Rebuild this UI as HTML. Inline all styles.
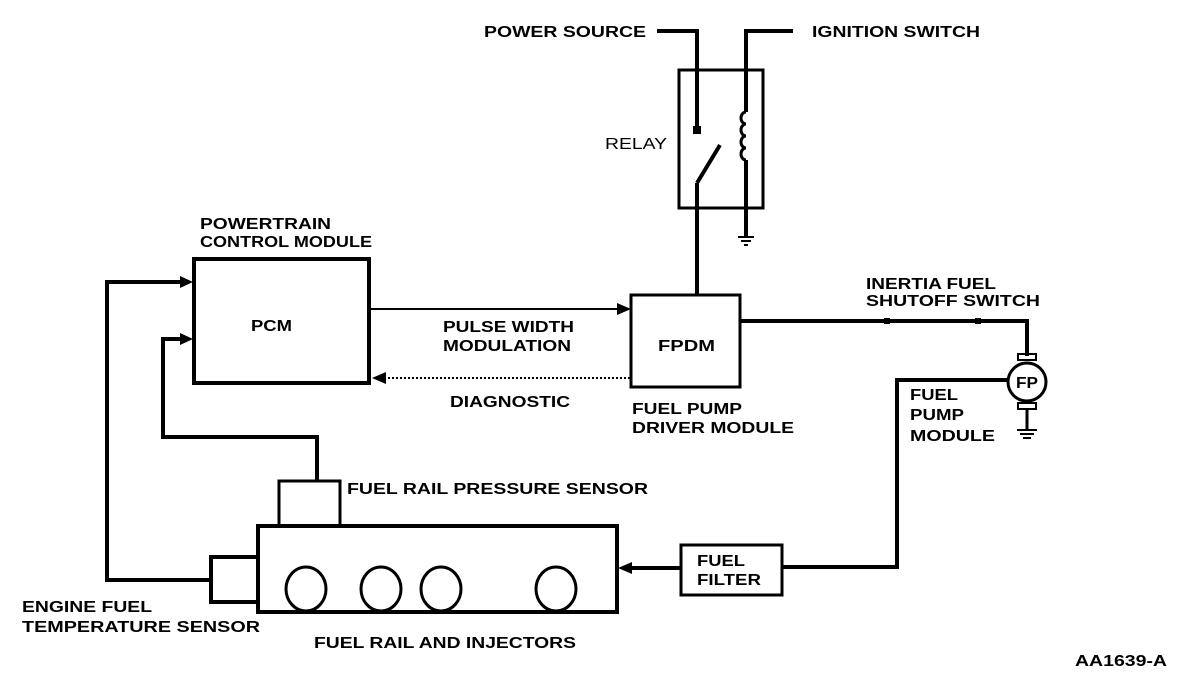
<!DOCTYPE html>
<html><head><meta charset="utf-8"><style>
html,body{margin:0;padding:0;background:#fff;}
svg{display:block;}
text{font-family:"Liberation Sans",sans-serif;font-weight:bold;font-size:16px;fill:#000;}
</style></head><body>
<svg width="1200" height="688" viewBox="0 0 1200 688" xmlns="http://www.w3.org/2000/svg">
<g fill="none" stroke="#000">
<!-- relay -->
<rect x="679" y="70" width="84" height="138" stroke-width="3"/>
<polyline points="657,31 697,31 697,130" stroke-width="4"/>
<rect x="693" y="126" width="8" height="8" fill="#000" stroke="none"/>
<line x1="697" y1="183" x2="720" y2="145" stroke-width="4"/>
<line x1="697" y1="183" x2="697" y2="296" stroke-width="4"/>
<polyline points="793,31 746,31 746,112" stroke-width="4"/>
<path d="M746,112 a5,6 0 0 0 0,12 a5,6 0 0 0 0,12 a5,6 0 0 0 0,12 a5,6 0 0 0 0,12 " stroke-width="3"/>
<line x1="746" y1="160" x2="746" y2="237" stroke-width="4"/>
<line x1="738" y1="237" x2="754" y2="237" stroke-width="2"/>
<line x1="741" y1="241" x2="751" y2="241" stroke-width="2"/>
<line x1="744" y1="245" x2="748" y2="245" stroke-width="2"/>
<!-- PCM -->
<rect x="194" y="259" width="175" height="124" stroke-width="4"/>
<!-- FPDM -->
<rect x="631" y="295" width="109" height="92" stroke-width="3"/>
<line x1="369" y1="309" x2="620" y2="309" stroke-width="2"/>
<line x1="384" y1="378" x2="631" y2="378" stroke-width="2" stroke-dasharray="2,2"/>
<!-- FPDM output to pump -->
<polyline points="740,321 1027,321 1027,356" stroke-width="4"/>
<circle cx="1027" cy="382" r="19" stroke-width="3"/>
<rect x="1018" y="354" width="18" height="6" stroke-width="2"/>
<rect x="1018" y="403" width="18" height="6" stroke-width="2"/>
<line x1="1027" y1="409" x2="1027" y2="429" stroke-width="3"/>
<line x1="1017" y1="430" x2="1037" y2="430" stroke-width="2"/>
<line x1="1020" y1="434" x2="1034" y2="434" stroke-width="2"/>
<line x1="1023" y1="438" x2="1031" y2="438" stroke-width="2"/>
<polyline points="1008,380 897,380 897,567 783,567" stroke-width="4"/>
<!-- filter -->
<rect x="681" y="545" width="101" height="50" stroke-width="3"/>
<line x1="681" y1="568" x2="630" y2="568" stroke-width="4"/>
<!-- rail -->
<rect x="258" y="526" width="359" height="86" stroke-width="4"/>
<rect x="279" y="481" width="61" height="45" stroke-width="3"/>
<rect x="211" y="557" width="47" height="45" stroke-width="4"/>
<ellipse cx="306" cy="589" rx="20" ry="22" stroke-width="3"/>
<ellipse cx="381" cy="589" rx="20" ry="22" stroke-width="3"/>
<ellipse cx="441" cy="589" rx="20" ry="22" stroke-width="3"/>
<ellipse cx="556" cy="589" rx="20" ry="22" stroke-width="3"/>
<!-- feedback lines -->
<polyline points="211,580 107,580 107,282 182,282" stroke-width="4"/>
<polyline points="317,481 317,437 163,437 163,339 182,339" stroke-width="4"/>
</g>
<g fill="#000">
<rect x="884" y="318" width="6" height="6"/>
<rect x="975" y="318" width="6" height="6"/>
<polygon points="193,282 180,276 180,288"/>
<polygon points="193,339 180,333 180,345"/>
<polygon points="631,309 617,303 617,315"/>
<polygon points="372,378 386,372 386,384"/>
<polygon points="618,568 632,562 632,574"/>
</g>
<text x="484" y="37" textLength="162" lengthAdjust="spacingAndGlyphs">POWER SOURCE</text>
<text x="812" y="37" textLength="168" lengthAdjust="spacingAndGlyphs">IGNITION SWITCH</text>
<text x="605" y="149" font-weight="normal" style="font-weight:normal" textLength="62" lengthAdjust="spacingAndGlyphs">RELAY</text>
<text x="200" y="229" textLength="131" lengthAdjust="spacingAndGlyphs">POWERTRAIN</text>
<text x="200" y="247" textLength="172" lengthAdjust="spacingAndGlyphs">CONTROL MODULE</text>
<text x="251" y="331" textLength="41" lengthAdjust="spacingAndGlyphs">PCM</text>
<text x="443" y="332" textLength="131" lengthAdjust="spacingAndGlyphs">PULSE WIDTH</text>
<text x="443" y="351" textLength="128" lengthAdjust="spacingAndGlyphs">MODULATION</text>
<text x="450" y="407" textLength="120" lengthAdjust="spacingAndGlyphs">DIAGNOSTIC</text>
<text x="658" y="351" textLength="57" lengthAdjust="spacingAndGlyphs">FPDM</text>
<text x="632" y="414" textLength="110" lengthAdjust="spacingAndGlyphs">FUEL PUMP</text>
<text x="632" y="433" textLength="162" lengthAdjust="spacingAndGlyphs">DRIVER MODULE</text>
<text x="866" y="289" textLength="130" lengthAdjust="spacingAndGlyphs">INERTIA FUEL</text>
<text x="866" y="306" textLength="174" lengthAdjust="spacingAndGlyphs">SHUTOFF SWITCH</text>
<text x="910" y="400" textLength="48" lengthAdjust="spacingAndGlyphs">FUEL</text>
<text x="910" y="420" textLength="54" lengthAdjust="spacingAndGlyphs">PUMP</text>
<text x="910" y="441" textLength="85" lengthAdjust="spacingAndGlyphs">MODULE</text>
<text x="1016" y="388" font-size="14" textLength="22" lengthAdjust="spacingAndGlyphs">FP</text>
<text x="347" y="494" textLength="301" lengthAdjust="spacingAndGlyphs">FUEL RAIL PRESSURE SENSOR</text>
<text x="697" y="566" textLength="48" lengthAdjust="spacingAndGlyphs">FUEL</text>
<text x="697" y="585" textLength="64" lengthAdjust="spacingAndGlyphs">FILTER</text>
<text x="22" y="612" textLength="130" lengthAdjust="spacingAndGlyphs">ENGINE FUEL</text>
<text x="22" y="632" textLength="238" lengthAdjust="spacingAndGlyphs">TEMPERATURE SENSOR</text>
<text x="314" y="648" textLength="262" lengthAdjust="spacingAndGlyphs">FUEL RAIL AND INJECTORS</text>
<text x="1075" y="666" font-size="15" textLength="92" lengthAdjust="spacingAndGlyphs">AA1639-A</text>
</svg>
</body></html>
